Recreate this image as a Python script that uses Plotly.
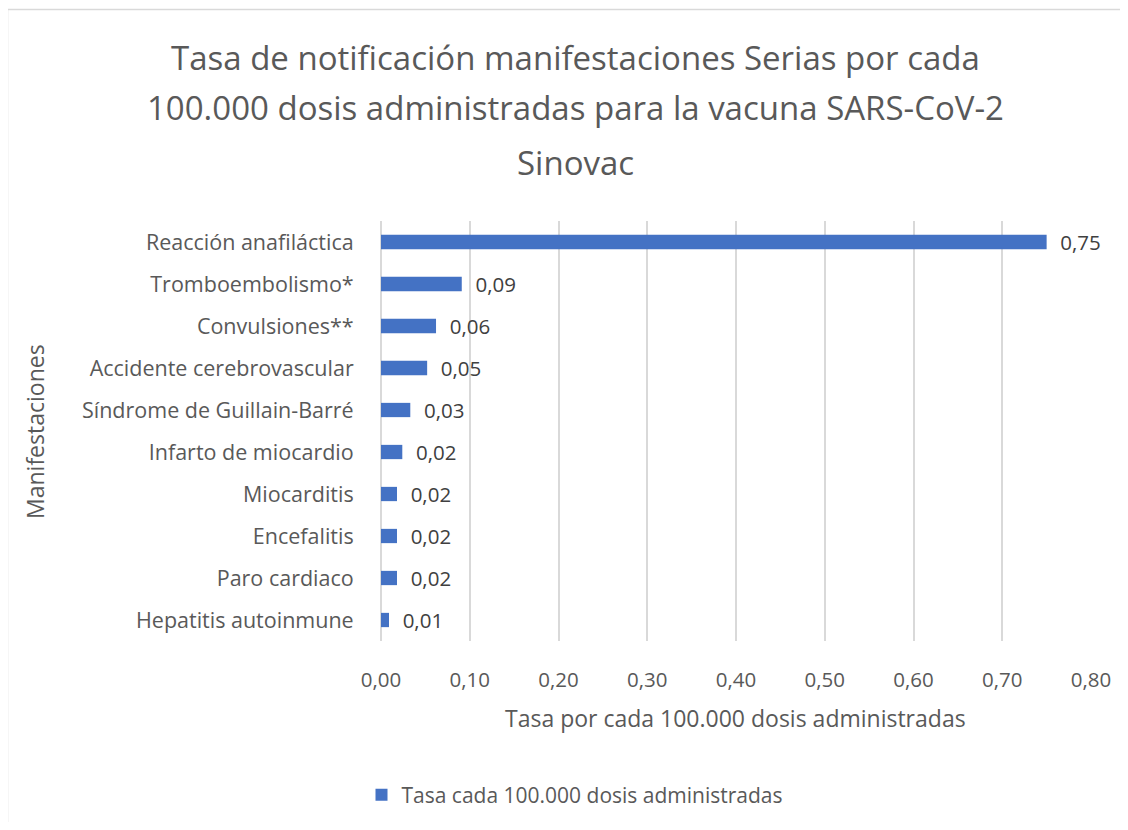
import plotly.graph_objects as go

categories = [
    "Reacción anafiláctica",
    "Tromboembolismo*",
    "Convulsiones**",
    "Accidente cerebrovascular",
    "Síndrome de Guillain-Barré",
    "Infarto de miocardio",
    "Miocarditis",
    "Encefalitis",
    "Paro cardiaco",
    "Hepatitis autoinmune",
]
values = [0.75, 0.091, 0.062, 0.052, 0.033, 0.024, 0.018, 0.018, 0.018, 0.009]
series_name = "Tasa cada 100.000 dosis administradas"
x_ticks = [0.0, 0.1, 0.2, 0.3, 0.4, 0.5, 0.6, 0.7, 0.8]
title_lines = [
    "Tasa de notificación manifestaciones Serias por cada",
    "100.000 dosis administradas para la vacuna SARS-CoV-2",
    "Sinovac",
]

FONT = "Open Sans"
GRAY = "#595959"
GRID = "#d9d9d9"
BAR = "#4472C4"

OFF = 8  # page body margin
W, H = 1128 - 2 * OFF, 830 - 2 * OFF
L, T = 381 - OFF, 221 - OFF
R = W - (1091 - OFF)
B = H - (641 - OFF)
pw, ph = W - L - R, H - T - B

def px_x(p):
    return (p - OFF - L) / pw

def px_y(p):
    return (H - B - (p - OFF)) / ph

fig = go.Figure()
fig.add_trace(go.Bar(
    y=categories,
    x=values,
    orientation="h",
    name=series_name,
    marker=dict(color=BAR, line=dict(width=0)),
    width=0.34,
    texttemplate="  %{x:.2f}",
    textposition="outside",
    constraintext="none",
    cliponaxis=False,
    textfont=dict(family=FONT, size=20.5, color="#404040"),
    showlegend=True,
))

annotations = []
for line, yc in zip(title_lines, [57, 107, 162]):
    annotations.append(dict(
        text=line, xref="paper", yref="paper",
        x=px_x(575), y=px_y(yc), xanchor="center", yanchor="middle",
        showarrow=False, font=dict(family=FONT, size=33, color=GRAY)))
annotations += [
    dict(text="Manifestaciones", xref="paper", yref="paper",
         x=px_x(35), y=px_y(432), xanchor="center", yanchor="middle",
         textangle=-90, showarrow=False,
         font=dict(family=FONT, size=23, color=GRAY)),
    dict(text="Tasa por cada 100.000 dosis administradas", xref="paper", yref="paper",
         x=px_x(735), y=px_y(718), xanchor="center", yanchor="middle",
         showarrow=False,
         font=dict(family=FONT, size=23, color=GRAY)),
]

fig.update_layout(
    width=W, height=H,
    margin=dict(l=L, r=R, t=T, b=B, autoexpand=False),
    paper_bgcolor="white",
    plot_bgcolor="white",
    separators=",.",
    font=dict(family=FONT, color=GRAY, size=19),
    xaxis=dict(
        range=[0, 0.8],
        tickvals=x_ticks,
        tickformat=".2f",
        showgrid=True, gridcolor=GRID, gridwidth=1.5,
        zeroline=True, zerolinecolor=GRID, zerolinewidth=1.5,
        showline=False,
        ticks="outside", ticklen=20, tickcolor="rgba(0,0,0,0)",
        tickfont=dict(family=FONT, size=20.5, color=GRAY),
    ),
    yaxis=dict(
        autorange="reversed",
        showgrid=False,
        showline=False,
        ticks="outside", ticklen=22, tickcolor="rgba(0,0,0,0)",
        tickfont=dict(family=FONT, size=21.5, color=GRAY),
    ),
    bargap=0.66,
    legend=dict(
        orientation="h",
        x=px_x(575), xanchor="center",
        y=px_y(795), yanchor="middle",
        font=dict(family=FONT, size=21, color=GRAY),
        itemwidth=30,
    ),
    annotations=annotations,
    shapes=[
        dict(type="line", xref="paper", yref="paper",
             x0=px_x(7.5), x1=px_x(7.5), y0=px_y(9.5), y1=px_y(840),
             line=dict(color=GRID, width=1.5), layer="below"),
        dict(type="line", xref="paper", yref="paper",
             x0=px_x(7.5), x1=px_x(1140), y0=px_y(9.5), y1=px_y(9.5),
             line=dict(color=GRID, width=1.5), layer="below"),
    ],
)

fig.write_html("out.html")
